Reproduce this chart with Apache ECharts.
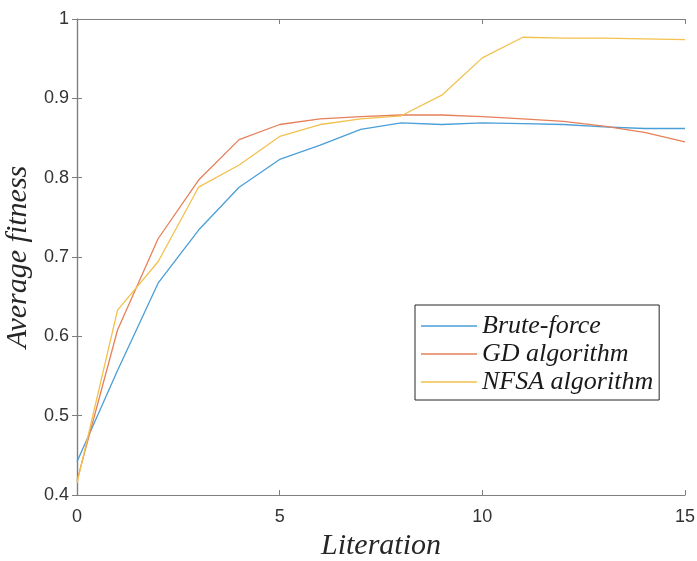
<!DOCTYPE html>
<html>
<head>
<meta charset="utf-8">
<script src="https://cdn.jsdelivr.net/npm/echarts@6/dist/echarts.min.js"></script>
<style>
  html, body { margin: 0; padding: 0; background: #fff; }
  #chart { width: 697px; height: 561px; }
</style>
</head>
<body>
<div id="chart"></div>
<script>
// Iterations 0..15
const iterations = [0, 1, 2, 3, 4, 5, 6, 7, 8, 9, 10, 11, 12, 13, 14, 15];

// Average fitness per iteration for each method
const bruteForce = [0.442, 0.557, 0.667, 0.734, 0.788, 0.823, 0.841, 0.861, 0.869, 0.867, 0.869, 0.868, 0.867, 0.864, 0.862, 0.862];
const gdAlgorithm = [0.418, 0.608, 0.723, 0.797, 0.848, 0.867, 0.874, 0.877, 0.879, 0.879, 0.877, 0.874, 0.871, 0.865, 0.857, 0.845];
const nfsaAlgorithm = [0.415, 0.633, 0.694, 0.788, 0.816, 0.852, 0.867, 0.874, 0.878, 0.904, 0.951, 0.977, 0.976, 0.976, 0.975, 0.974];

const seriesNames = ['Brute-force', 'GD algorithm', 'NFSA algorithm'];
const seriesColors = ['#4a9fd8', '#e5805a', '#f2c14e'];

const pairs = arr => arr.map((v, i) => [iterations[i], v]);

const axisGrey = '#7f7f7f';
const tickText = '#333333';
const serifItalic = '"Liberation Serif", "Times New Roman", serif';

const chart = echarts.init(document.getElementById('chart'), null, { renderer: 'canvas' });

const lineSeries = [bruteForce, gdAlgorithm, nfsaAlgorithm].map((data, k) => ({
  name: seriesNames[k],
  type: 'line',
  data: pairs(data),
  symbol: 'none',
  smooth: false,
  lineStyle: { color: seriesColors[k], width: 1.3 },
  itemStyle: { color: seriesColors[k] },
  z: 3
}));

// Boxed frame: the top and right axes only carry inward ticks
const frameAxis = {
  axisLine: { show: true, lineStyle: { color: axisGrey, width: 1.2 } },
  axisTick: { show: true, inside: true, length: 5, lineStyle: { color: axisGrey } },
  splitLine: { show: false }
};

chart.setOption({
  animation: false,
  backgroundColor: '#ffffff',
  grid: { left: 77, top: 19, right: 12, bottom: 66, containLabel: false, outerBoundsMode: 'none' },
  legend: {
    orient: 'vertical',
    left: 415,
    top: 305,
    padding: [8, 6, 5, 6],
    itemGap: 2,
    itemWidth: 56,
    itemHeight: 1.4,
    icon: 'rect',
    backgroundColor: '#ffffff',
    borderColor: '#262626',
    borderWidth: 1,
    textStyle: {
      fontFamily: serifItalic,
      fontStyle: 'italic',
      fontSize: 26,
      color: '#1a1a1a'
    },
    data: seriesNames
  },
  xAxis: [
    Object.assign({
      type: 'value',
      min: 0, max: 15, interval: 5,
      name: 'Literation',
      nameLocation: 'middle',
      nameGap: 30,
      nameTextStyle: { fontFamily: serifItalic, fontStyle: 'italic', fontSize: 30, color: '#262626' },
      axisLabel: { margin: 13, fontFamily: '"Liberation Sans", Arial, sans-serif', fontSize: 18, color: tickText }
    }, frameAxis),
    Object.assign({
      type: 'value',
      position: 'top',
      min: 0, max: 15, interval: 5,
      axisLabel: { show: false }
    }, frameAxis)
  ],
  yAxis: [
    Object.assign({
      type: 'value',
      min: 0.4, max: 1, interval: 0.1,
      name: 'Average fitness',
      nameLocation: 'middle',
      nameGap: 35,
      nameTextStyle: { fontFamily: serifItalic, fontStyle: 'italic', fontSize: 30, color: '#262626' },
      axisLabel: {
        margin: 8,
        fontFamily: '"Liberation Sans", Arial, sans-serif', fontSize: 18, color: tickText,
        formatter: v => (Math.abs(v - 1) < 1e-9 ? '1' : v.toFixed(1))
      }
    }, frameAxis),
    Object.assign({
      type: 'value',
      position: 'right',
      min: 0.4, max: 1, interval: 0.1,
      axisLabel: { show: false }
    }, frameAxis)
  ],
  series: lineSeries
});
</script>
</body>
</html>
